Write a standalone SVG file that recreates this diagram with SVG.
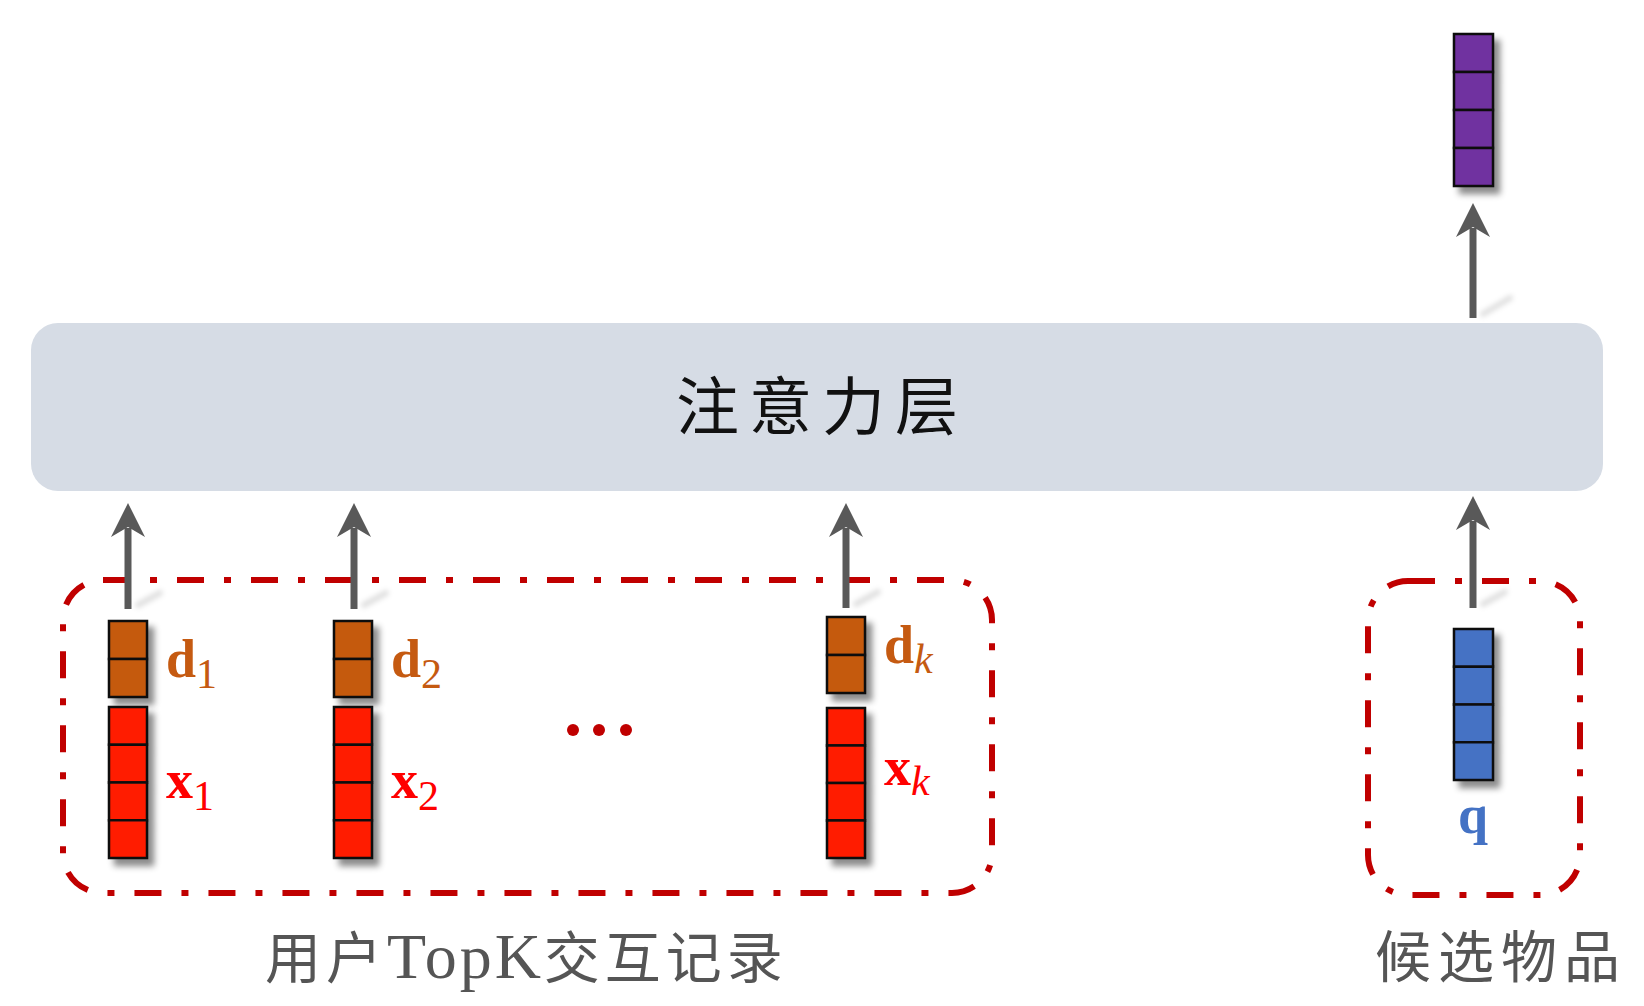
<svg xmlns="http://www.w3.org/2000/svg" width="1644" height="1006" viewBox="0 0 1644 1006">
<defs>
<filter id="sh" x="-50%" y="-50%" width="200%" height="200%">
<feDropShadow dx="6" dy="7" stdDeviation="3" flood-color="#000" flood-opacity="0.45"/>
</filter>
<filter id="ash" x="-50%" y="-50%" width="200%" height="200%">
<feGaussianBlur stdDeviation="2.5"/>
</filter>
<style>
.cell{stroke:#111;stroke-width:2.5}
.d{fill:#C55A11}
.x{fill:#FF1A00}
.q{fill:#4472C4}
.p{fill:#7030A0}
.dash{fill:none;stroke:#C00000;stroke-width:6;stroke-dasharray:27 20 7 20}
.shaft{stroke:#595959;stroke-width:7;fill:none}
.head{fill:#595959}
.ashadow{stroke:#000;stroke-opacity:0.12;stroke-width:6;stroke-linecap:round;fill:none}
.lbl{font-family:"Liberation Serif",serif;font-weight:bold;font-size:54px}
.sub{font-weight:normal;font-size:42px}
.cjk{font-family:"Noto Sans CJK SC",sans-serif;fill:#555}
</style>
</defs>
<rect width="1644" height="1006" fill="#FFFFFF"/>

<g id="attention">
<rect x="31" y="323" width="1572" height="168" rx="27" fill="#D6DCE5"/>
<text x="822" y="429" text-anchor="middle" font-family="Noto Sans CJK SC, sans-serif" font-size="63" letter-spacing="10" fill="#111">注意力层</text>
</g>

<g id="history-group">
<rect class="dash" x="63" y="580" width="929" height="313" rx="40"/>
<text class="cjk" x="265" y="978" font-size="56" letter-spacing="5">用户<tspan font-family="Liberation Serif, serif" font-size="64" letter-spacing="3">TopK</tspan>交互记录</text>
</g>

<g id="candidate-group">
<rect class="dash" x="1368" y="581" width="212" height="314" rx="40"/>
<text class="cjk" x="1375" y="977" font-size="56" letter-spacing="7">候选物品</text>
</g>

<g id="d1" filter="url(#sh)">
<rect class="cell d" x="109" y="621" width="38" height="38"/>
<rect class="cell d" x="109" y="659" width="38" height="38"/>
</g>
<g id="x1" filter="url(#sh)">
<rect class="cell x" x="109" y="707" width="38" height="37.75"/>
<rect class="cell x" x="109" y="744.75" width="38" height="37.75"/>
<rect class="cell x" x="109" y="782.5" width="38" height="37.75"/>
<rect class="cell x" x="109" y="820.25" width="38" height="37.75"/>
</g>
<g id="d2" filter="url(#sh)">
<rect class="cell d" x="334" y="621" width="38" height="38"/>
<rect class="cell d" x="334" y="659" width="38" height="38"/>
</g>
<g id="x2" filter="url(#sh)">
<rect class="cell x" x="334" y="707" width="38" height="37.75"/>
<rect class="cell x" x="334" y="744.75" width="38" height="37.75"/>
<rect class="cell x" x="334" y="782.5" width="38" height="37.75"/>
<rect class="cell x" x="334" y="820.25" width="38" height="37.75"/>
</g>
<g id="dk" filter="url(#sh)">
<rect class="cell d" x="827" y="617" width="38" height="38"/>
<rect class="cell d" x="827" y="655" width="38" height="38"/>
</g>
<g id="xk" filter="url(#sh)">
<rect class="cell x" x="827" y="708" width="38" height="37.5"/>
<rect class="cell x" x="827" y="745.5" width="38" height="37.5"/>
<rect class="cell x" x="827" y="783" width="38" height="37.5"/>
<rect class="cell x" x="827" y="820.5" width="38" height="37.5"/>
</g>
<g id="q" filter="url(#sh)">
<rect class="cell q" x="1454" y="629" width="39" height="37.75"/>
<rect class="cell q" x="1454" y="666.75" width="39" height="37.75"/>
<rect class="cell q" x="1454" y="704.5" width="39" height="37.75"/>
<rect class="cell q" x="1454" y="742.25" width="39" height="37.75"/>
</g>
<g id="output" filter="url(#sh)">
<rect class="cell p" x="1454" y="34" width="39" height="38"/>
<rect class="cell p" x="1454" y="72" width="39" height="38"/>
<rect class="cell p" x="1454" y="110" width="39" height="38"/>
<rect class="cell p" x="1454" y="148" width="39" height="38"/>
</g>

<g id="labels">
<text class="lbl" x="166" y="677" fill="#C55A11">d<tspan class="sub" dy="11">1</tspan></text>
<text class="lbl" x="166" y="798" fill="#FF0000">x<tspan class="sub" dy="12">1</tspan></text>
<text class="lbl" x="391" y="677" fill="#C55A11">d<tspan class="sub" dy="11">2</tspan></text>
<text class="lbl" x="391" y="798" fill="#FF0000">x<tspan class="sub" dy="12">2</tspan></text>
<text class="lbl" x="884" y="663" fill="#C55A11">d<tspan class="sub" dy="10" font-style="italic">k</tspan></text>
<text class="lbl" x="884" y="785" fill="#FF0000">x<tspan class="sub" dy="10" font-style="italic">k</tspan></text>
<text class="lbl" x="1473" y="833" text-anchor="middle" fill="#4472C4">q</text>
<g id="ellipsis" fill="#C00000">
<circle cx="573" cy="730" r="6"/>
<circle cx="599" cy="730" r="6"/>
<circle cx="626" cy="730" r="6"/>
</g>
</g>

<g id="connectors">
<g filter="url(#ash)">
<path class="ashadow" d="M138 605 L160 593"/>
<path class="ashadow" d="M364 605 L386 593"/>
<path class="ashadow" d="M856 604 L878 592"/>
<path class="ashadow" d="M1483 604 L1505 592"/>
<path class="ashadow" d="M1483 314 L1510 298"/>
</g>
<line class="shaft" x1="128" y1="609" x2="128" y2="528"/>
<path class="head" d="M128 503 L145 537 L128 527 L111 537 Z"/>
<line class="shaft" x1="354" y1="609" x2="354" y2="528"/>
<path class="head" d="M354 503 L371 537 L354 527 L337 537 Z"/>
<line class="shaft" x1="846" y1="608" x2="846" y2="528"/>
<path class="head" d="M846 503 L863 537 L846 527 L829 537 Z"/>
<line class="shaft" x1="1473" y1="608" x2="1473" y2="521"/>
<path class="head" d="M1473 496 L1490 530 L1473 520 L1456 530 Z"/>
<line class="shaft" x1="1473" y1="318" x2="1473" y2="228"/>
<path class="head" d="M1473 203 L1490 237 L1473 227 L1456 237 Z"/>
</g>
</svg>
